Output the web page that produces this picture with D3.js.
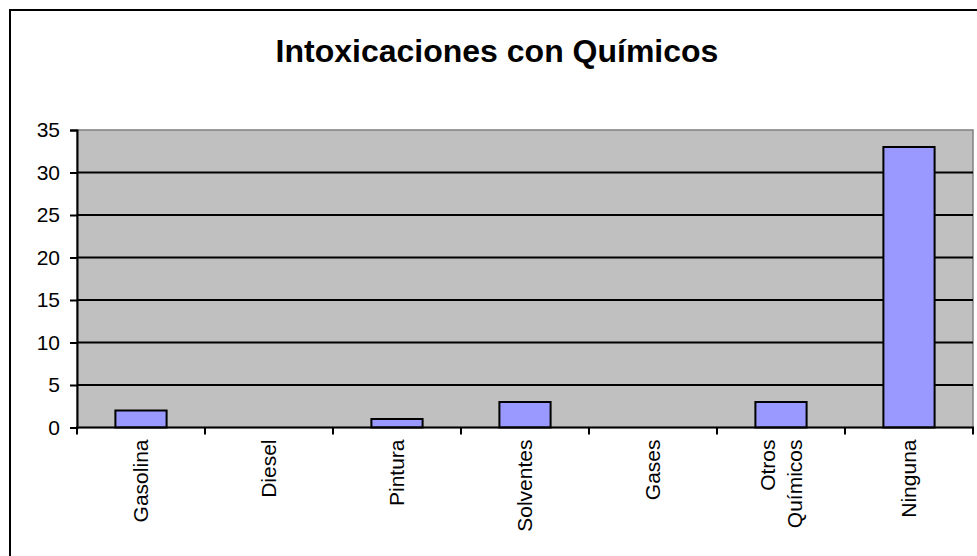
<!DOCTYPE html>
<html>
<head>
<meta charset="utf-8">
<script src="https://cdn.jsdelivr.net/npm/d3@7"></script>
<style>
  html, body { margin: 0; padding: 0; background: #fff; }
  svg { display: block; font-family: "Liberation Sans", Arial, sans-serif; }
</style>
</head>
<body>
<svg id="chart" width="977" height="556"></svg>
<script>
// Chart data
const categories = ["Gasolina", "Diesel", "Pintura", "Solventes", "Gases", "Otros Químicos", "Ninguna"];
const categoryLines = [["Gasolina"], ["Diesel"], ["Pintura"], ["Solventes"], ["Gases"], ["Otros", "Químicos"], ["Ninguna"]];
const values = [2, 0, 1, 3, 0, 3, 33];
const yTicks = [0, 5, 10, 15, 20, 25, 30, 35];
const title = "Intoxicaciones con Químicos";

const svg = d3.select("#chart");
const W = 977, H = 556;

// Outer frame of the chart object
svg.append("rect")
  .attr("x", 10).attr("y", 10)
  .attr("width", 1200).attr("height", 1200)
  .attr("fill", "#fff").attr("stroke", "#000").attr("stroke-width", 2);

const plot = { left: 77, right: 973, top: 130, bottom: 427.5 };

const x = d3.scaleBand()
  .domain(categories)
  .range([plot.left, plot.right])
  .paddingInner(0).paddingOuter(0);

const y = d3.scaleLinear()
  .domain([0, 35])
  .range([plot.bottom, plot.top]);

// Title
svg.append("text")
  .attr("x", 497).attr("y", 62)
  .attr("text-anchor", "middle")
  .attr("font-size", 32).attr("font-weight", "bold")
  .attr("fill", "#000")
  .text(title);

// Plot background
svg.append("rect")
  .attr("x", plot.left).attr("y", plot.top)
  .attr("width", plot.right - plot.left).attr("height", plot.bottom - plot.top)
  .attr("fill", "#C0C0C0").attr("stroke", "#808080").attr("stroke-width", 1.5);

// Horizontal gridlines
svg.append("g")
  .selectAll("line")
  .data(yTicks.filter(d => d > 0 && d < 35))
  .join("line")
  .attr("x1", plot.left).attr("x2", plot.right)
  .attr("y1", d => y(d)).attr("y2", d => y(d))
  .attr("stroke", "#000").attr("stroke-width", 2);

// Bars
svg.append("g")
  .selectAll("rect")
  .data(values.map((v, i) => ({ cat: categories[i], v })))
  .join("rect")
  .filter(d => d.v > 0)
  .attr("x", d => x(d.cat) + x.bandwidth() * 0.3)
  .attr("width", x.bandwidth() * 0.4)
  .attr("y", d => y(d.v))
  .attr("height", d => y(0) - y(d.v))
  .attr("fill", "#9999FF")
  .attr("stroke", "#000").attr("stroke-width", 2);

// Y axis
const yAxis = svg.append("g")
  .attr("transform", `translate(${plot.left},0)`)
  .call(d3.axisLeft(y).tickValues(yTicks).tickSize(7).tickPadding(10));
yAxis.select(".domain").attr("stroke", "#000").attr("stroke-width", 2);
yAxis.selectAll(".tick line").attr("stroke", "#000").attr("stroke-width", 2);
yAxis.selectAll(".tick text")
  .attr("font-size", 21).attr("font-family", "Liberation Sans, Arial, sans-serif")
  .attr("fill", "#000");

// X axis line and category boundary ticks
const xAxisG = svg.append("g");
xAxisG.append("line")
  .attr("x1", plot.left - 1).attr("x2", plot.right + 1)
  .attr("y1", plot.bottom).attr("y2", plot.bottom)
  .attr("stroke", "#000").attr("stroke-width", 2);
const boundaries = categories.map(c => x(c)).concat([x.range()[1]]);
xAxisG.selectAll("line.tick")
  .data(boundaries)
  .join("line")
  .attr("class", "tick")
  .attr("x1", d => d).attr("x2", d => d)
  .attr("y1", plot.bottom).attr("y2", plot.bottom + 7)
  .attr("stroke", "#000").attr("stroke-width", 2);

// Rotated category labels
const lineGap = 27;
const labels = xAxisG.selectAll("g.lbl")
  .data(categories)
  .join("g")
  .attr("class", "lbl")
  .attr("transform", c => `translate(${x(c) + x.bandwidth() / 2},${plot.bottom + 12}) rotate(-90)`);
labels.each(function (c, i) {
  const lines = categoryLines[i];
  const n = lines.length;
  const t = d3.select(this).append("text")
    .attr("text-anchor", "end")
    .attr("font-size", 21)
    .attr("fill", "#000");
  lines.forEach((ln, k) => {
    t.append("tspan")
      .attr("x", 0)
      .attr("y", (k - (n - 1) / 2) * lineGap)
      .attr("dy", "0.35em")
      .text(ln);
  });
});
</script>
</body>
</html>
